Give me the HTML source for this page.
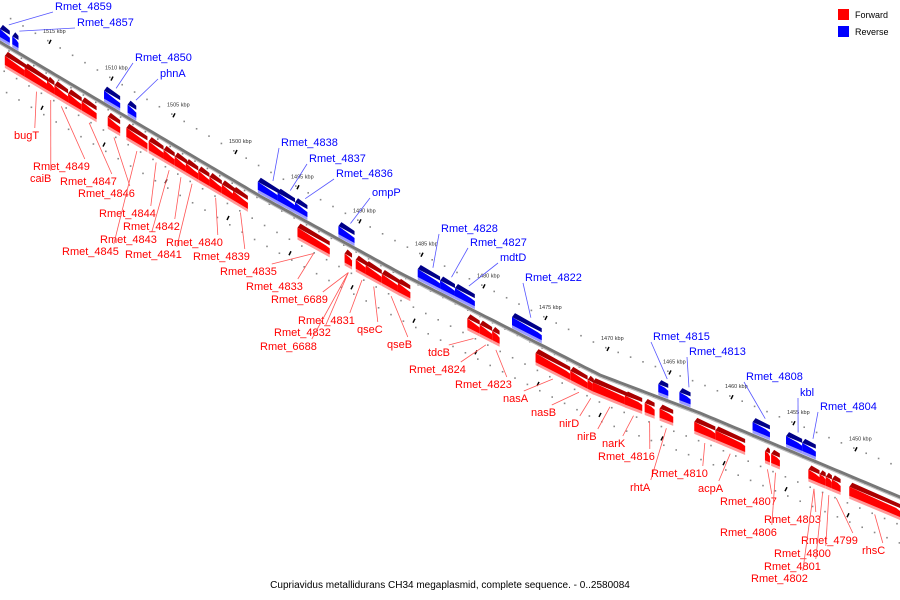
<!DOCTYPE html>
<html><head><meta charset="utf-8"><style>
html,body{margin:0;padding:0;background:#fff;}
svg{display:block;font-family:"Liberation Sans",sans-serif;}
</style></head><body>
<svg id="chart" width="900" height="600" viewBox="0 0 900 600">
<g id="grid"></g>
<g id="axis"></g>
<g id="genes"></g>
<g id="labels"></g>
<g>
<rect x="838" y="9" width="11" height="11" fill="#f00"/>
<text x="855" y="18" font-size="9" fill="#000">Forward</text>
<rect x="838" y="26" width="11" height="11" fill="#00f"/>
<text x="855" y="35" font-size="9" fill="#000">Reverse</text>
</g>
<text x="450" y="588" font-size="10" text-anchor="middle" fill="#000">Cupriavidus metallidurans CH34 megaplasmid, complete sequence. - 0..2580084</text>
</svg>
<script>
const tickKbp = [1515,1510,1505,1500,1495,1490,1485,1480,1475,1470,1465,1460,1455,1450];
const fwdStart = [1518.4,1516.8,1515.0,1514.4,1513.3,1512.2,1510.1,1508.6,1506.8,1505.6,1504.7,1503.8,1502.8,1501.9,1500.9,1500.0,1494.8,1491.0,1490.1,1489.3,1488.0,1486.7,1481.1,1480.1,1479.1,1475.6,1472.8,1471.4,1471.0,1468.4,1466.8,1465.6,1462.8,1461.1,1457.1,1456.6,1453.6,1452.7,1452.2,1451.7,1450.3];
const fwdEnd   = [1516.6,1514.9,1514.4,1513.3,1512.2,1511.0,1509.1,1506.9,1505.6,1504.7,1503.7,1502.8,1501.9,1500.9,1499.8,1498.8,1492.2,1490.4,1489.1,1488.0,1486.5,1485.7,1480.1,1479.1,1478.5,1472.8,1471.4,1470.9,1468.2,1467.0,1466.0,1464.5,1461.1,1458.7,1456.7,1455.9,1452.7,1452.2,1451.7,1451.0,1446.2];
const revStart = [1518.8,1517.8,1510.4,1508.5,1498.0,1496.4,1495.0,1491.5,1485.1,1483.3,1482.1,1477.5,1465.7,1464.0,1458.1,1455.4,1454.1];
const revEnd   = [1518.0,1517.3,1509.1,1507.8,1496.2,1495.0,1494.0,1490.2,1483.3,1482.1,1480.5,1475.1,1464.9,1463.1,1456.7,1454.1,1453.0];
const fwdNames = ["bugT","Rmet_4849","caiB","Rmet_4847","Rmet_4846","Rmet_4844","Rmet_4843","Rmet_4845","Rmet_4842","Rmet_4841","Rmet_4840","Rmet_4839","Rmet_4835","Rmet_4833","Rmet_6689","Rmet_4831","qseC","Rmet_4832","Rmet_6688","qseB","tdcB","Rmet_4824","Rmet_4823","nasA","nasB","nirD","nirB","narK","Rmet_4816","rhtA","Rmet_4810","acpA","Rmet_4807","Rmet_4806","Rmet_4803","Rmet_4799","Rmet_4800","Rmet_4801","Rmet_4802","rhsC"];
const fwdGene  = [1,3,2,5,6,8,9,7,10,11,13,15,16,16,17,18,19,17,17,20,22,23,24,25,26,27,28,29,30,31,32,33,34,35,36,39,38,37,36,40];
const revNames = ["Rmet_4859","Rmet_4857","Rmet_4850","phnA","Rmet_4838","Rmet_4837","Rmet_4836","ompP","Rmet_4828","Rmet_4827","mdtD","Rmet_4822","Rmet_4815","Rmet_4813","Rmet_4808","kbl","Rmet_4804"];
// label layout (text positions)
const fwdLX=[14,33,30,60,78,99,100,62,123,125,166,193,220,246,271,298,357,274,260,387,428,409,455,503,531,559,577,602,598,630,651,698,720,720,764,801,774,764,751,862];
const fwdLY=[139,170,182,185,197,217,243,255,230,258,246,260,275,290,303,324,333,336,350,348,356,373,388,402,416,427,440,447,460,491,477,492,505,536,523,544,557,570,582,554];
const revLX=[55,77,135,160,281,309,336,372,441,470,500,525,653,689,746,800,820];
const revLY=[10,26,61,77,146,162,177,196,232,246,261,281,340,355,380,396,410];

const NS="http://www.w3.org/2000/svg";
const lineX=[0,260,400,600,700,900], lineY=[42,196,273,375,413,497];
function yLine(x){for(let i=0;i<lineX.length-1;i++){if(x<=lineX[i+1]||i==lineX.length-2){const t=(x-lineX[i])/(lineX[i+1]-lineX[i]);return lineY[i]+t*(lineY[i+1]-lineY[i]);}}}
function xK(k){return 47+(1515-k)*12.4;}
function mk(tag,attrs,parent){const e=document.createElementNS(NS,tag);for(const a in attrs)e.setAttribute(a,attrs[a]);parent.appendChild(e);return e;}
const G=id=>document.getElementById(id);

// axis
let pts=[];for(let x=-5;x<=905;x+=5)pts.push(x+","+yLine(x).toFixed(1));
let ax=mk("polyline",{points:pts.join(" "),fill:"none",stroke:"#777","stroke-width":3},G("axis"));


let ax2=mk("polyline",{points:pts.map(p=>{const[a,b]=p.split(",");return a+","+(+b+2.2)}).join(" "),fill:"none",stroke:"#bbb","stroke-width":1},G("axis"));



// dots
for(let k=1519;k>=1446;k--){const x=xK(k);if(x<-5||x>905)continue;const y=yLine(x);
  [[-30,0],[-5,-14],[30,6],[44,-4]].forEach(o=>{const d=mk("rect",{x:x+o[1],y:y+o[0],width:1.6,height:1.6,fill:"#888"},G("grid"));
  
  });
}
tickKbp.forEach(k=>{const x=xK(k),y=yLine(x);
  const t=mk("text",{x:x-4,y:y-37,"font-size":5.5,fill:"#333"},G("grid"));t.textContent=k+" kbp";
  
  
  [[x+2,y-26],[x-6,y+40]].forEach(p=>{const m=mk("line",{x1:p[0],y1:p[1],x2:p[0]+2,y2:p[1]-4,stroke:"#000","stroke-width":1.5},G("grid"));
  
  });
});

// genes
function gene(s,e,fwd){
  const x1=xK(s),x2=xK(e),y1=yLine(x1),y2=yLine(x2);
  const g=mk("g",{},G("genes"));
  
  
  const o=fwd?[7,11,20,23]:[-17,-13,-5,-2];
  const dk=fwd?"#a00":"#008", md=fwd?"#f00":"#00f", lt=fwd?"#f99":"#99f";
  const ch=Math.min(4,(x2-x1)/3);
  mk("polygon",{points:`${x1+3},${y1+o[0]} ${x2},${y2+o[0]} ${x2},${y2+o[1]} ${x1},${y1+o[1]}`,fill:dk},g);
  mk("polygon",{points:`${x1},${y1+o[1]} ${x2-ch},${y2+o[1]} ${x2},${y2+o[1]+3} ${x2},${y2+o[3]} ${x1},${y1+o[3]}`,fill:lt},g);
  mk("polygon",{points:`${x1},${y1+o[1]} ${x2-ch},${y2+o[1]} ${x2},${y2+o[1]+3} ${x2},${y2+o[2]} ${x1},${y1+o[2]}`,fill:md},g);
  return g;
}
for(let i=0;i<fwdStart.length;i++)gene(fwdStart[i],fwdEnd[i],true);
for(let i=0;i<revStart.length;i++)gene(revStart[i],revEnd[i],false);

// labels
function textW(s){return s.length*6.2;}
fwdNames.forEach((n,i)=>{const gi=fwdGene[i];const gx=(xK(fwdStart[gi])+xK(fwdEnd[gi]))/2;const gy=yLine(gx)+28;
  const lx=fwdLX[i]+textW(n)-4,ly=fwdLY[i]-11;
  const l=mk("line",{x1:lx,y1:ly,x2:gx,y2:gy,stroke:"#f55","stroke-width":0.8},G("labels"));
  
  
  const t=mk("text",{x:fwdLX[i],y:fwdLY[i],"font-size":11,fill:"#f00"},G("labels"));t.textContent=n;
  
  
});
revNames.forEach((n,i)=>{const gx=(xK(revStart[i])+xK(revEnd[i]))/2;const gy=yLine(gx)-20;
  const l=mk("line",{x1:revLX[i]-2,y1:revLY[i]+2,x2:gx+4,y2:gy,stroke:"#55f","stroke-width":0.8},G("labels"));
  
  
  const t=mk("text",{x:revLX[i],y:revLY[i],"font-size":11,fill:"#00f"},G("labels"));t.textContent=n;
  
  
});
</script>
</body></html>
